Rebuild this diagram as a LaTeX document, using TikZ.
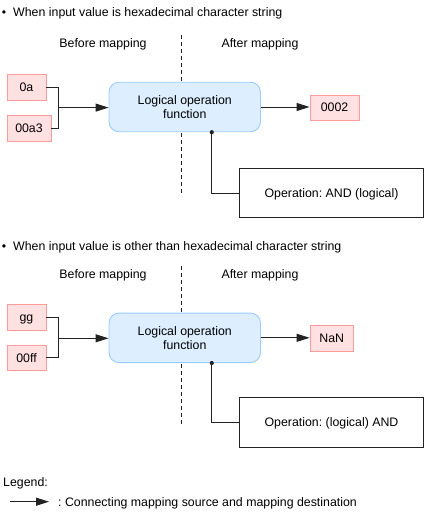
\documentclass[tikz,border=0pt]{standalone}
\usepackage{fontspec}
\setmainfont{Liberation Sans}
\usetikzlibrary{arrows.meta,calc}
\definecolor{pinkfill}{HTML}{FFE1E1}
\definecolor{pinkline}{HTML}{FF9B9B}
\definecolor{bluefill}{HTML}{DCEEFF}
\definecolor{blueline}{HTML}{99CCFF}
\definecolor{linegray}{HTML}{222222}
\frenchspacing
\begin{document}
\frenchspacing
\begin{tikzpicture}[x=1bp,y=-1bp,
  font=\fontsize{12.35bp}{14.3bp}\selectfont,
  lbl/.style={inner sep=0pt, text height=8.8bp, text depth=0bp},
  valbox/.style={lbl, draw=pinkline, fill=pinkfill, line width=0.9bp, minimum height=25.7bp},
  funcbox/.style={inner sep=0pt, draw=blueline, fill=bluefill, line width=0.9bp, rounded corners=10bp,
    minimum width=151.5bp, minimum height=49.5bp, align=center},
  opbox/.style={lbl, draw=linegray, line width=0.9bp, minimum width=184.5bp, minimum height=49.5bp},
  conn/.style={draw=linegray, line width=0.9bp},
  arr/.style={conn, -{Triangle[length=13bp,width=8bp]}},
  sepline/.style={draw=linegray, line width=1bp, dash pattern=on 4bp off 3bp}
]
\useasboundingbox (0,0) rectangle (427,512);

% ---------- Section 1 ----------
\node[lbl, anchor=west] (h1) at (1.7,11.7) {•\hspace{7bp}When input value is hexadecimal character string};
\node[lbl] (bm1) at (103,43.3) {Before mapping};
\node[lbl] (am1) at (260,43.3) {After mapping};
\coordinate (s1t) at (181.7,35);
\coordinate (s1b) at (181.7,194);
\draw[sepline] (s1t) -- (s1b);

\node[valbox, minimum width=39bp] (a1) at (26.5,87.2) {0a};
\node[valbox, minimum width=44bp, minimum height=26bp] (b1) at (29,128) {00a3};
\node[funcbox] (f1) at (184.75,107) {Logical operation\\function};
\node[valbox, minimum width=49bp, minimum height=25bp] (r1) at (334.5,107.5) {0002};
\node[opbox] (o1) at (331.5,193) {Operation: AND (logical)};

\coordinate (j1) at (58,107.6);
\draw[conn] (a1.east) -| (j1);
\draw[conn] (b1.east) -| (j1);
\draw[arr] (j1) -- (j1 -| f1.west);
\draw[arr] (f1.east) -- (f1.east -| r1.west);
\coordinate (d1) at ($(f1.south)+(27,0)$);
\fill[linegray] (d1) circle (2.1bp);
\draw[conn] (d1) |- (o1.west);

% ---------- Section 2 ----------
\node[lbl, anchor=west] (h2) at (1.7,246) {•\hspace{7bp}When input value is other than hexadecimal character string};
\node[lbl] (bm2) at (103,274.3) {Before mapping};
\node[lbl] (am2) at (260,274.3) {After mapping};
\coordinate (s2t) at (181.7,266);
\coordinate (s2b) at (181.7,425);
\draw[sepline] (s2t) -- (s2b);

\node[valbox, minimum width=39bp] (a2) at (26.5,317.2) {gg};
\node[valbox, minimum width=39bp, minimum height=25.3bp] (b2) at (26.5,357.7) {00ff};
\node[funcbox] (f2) at (184.75,337.8) {Logical operation\\function};
\node[valbox, minimum width=43.3bp, minimum height=26bp] (r2) at (331.7,338) {NaN};
\node[opbox] (o2) at (331.5,422.2) {Operation: (logical) AND};

\coordinate (j2) at (58,338.3);
\draw[conn] (a2.east) -| (j2);
\draw[conn] (b2.east) -| (j2);
\draw[arr] (j2) -- (j2 -| f2.west);
\draw[arr] (f2.east) -- (f2.east -| r2.west);
\coordinate (d2) at ($(f2.south)+(27,0)$);
\fill[linegray] (d2) circle (2.1bp);
\draw[conn] (d2) |- (o2.west);

% ---------- Legend ----------
\node[lbl, anchor=west] (lg) at (3,482) {Legend:};
\coordinate (la) at (10,501.7);
\coordinate (lb) at (49,501.7);
\draw[arr] (la) -- (lb);
\node[lbl, anchor=west] (lt) at (58,502) {: Connecting mapping source and mapping destination};
\end{tikzpicture}
\end{document}
